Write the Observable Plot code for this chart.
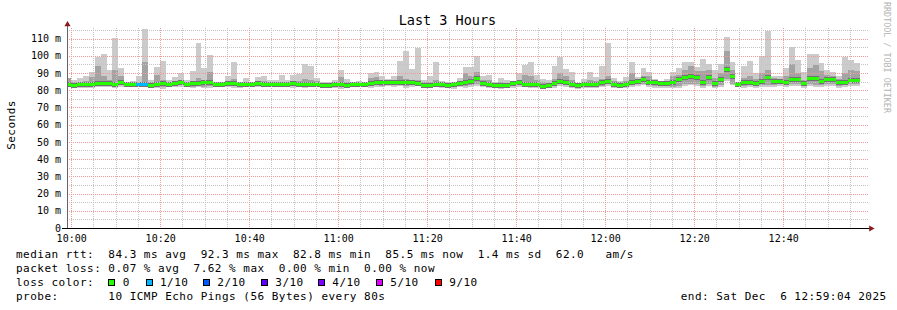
<!DOCTYPE html>
<html><head><meta charset="utf-8">
<script src="https://cdn.jsdelivr.net/npm/d3@7"></script>
<script src="https://cdn.jsdelivr.net/npm/@observablehq/plot@0.6"></script>
<style>
html,body{margin:0;padding:0;background:#fff;}
#chart{position:relative;width:897px;height:310px;overflow:hidden;background:#fff;}
</style></head><body><div id="chart"></div>
<script>
// ---- data (ms), one value per 80 s step ----
const maxRtt = [87,86,87.3,88,90.4,99,101,92,110.5,93,84.6,85.6,88,115.7,86,93.7,97,86,87.5,90,86,91.4,107.2,92.7,100.6,85,84.6,88,96.2,85,87,84.6,87.5,88,
86,86,89,86,89,89.5,95,94,87,84.5,84.5,86,92,86.5,84.5,85.6,84.5,90,90.8,88.5,86.6,88.5,97,103,92.4,104.7,86,88.5,96.2,85.5,84.5,85,87,93.7,
93.3,100,88.5,89,84.6,87,86,85.2,89.8,94.9,96.6,89,86.6,86,94.3,99,92.4,90.8,84.2,86.6,90.8,87.5,94.3,107.4,87,85.2,87.5,96.2,87.5,92.7,90.8,86.6,85.6,
86.6,90.4,92.7,96.2,96.2,93.3,98,95.3,91.8,95.3,111,96.6,84.6,93.9,97.2,90,99.7,114.2,88.5,88,92.7,105.3,97.4,90.4,100.8,101.2,95.8,92,90.4,88.5,99,97.4,96];
const midHigh = [87,85,85,85.5,87.5,94,88.5,86,92,88.5,84.5,84.5,84.5,96.6,84.5,89,86,84.5,85,85.5,84.5,85.5,87,86,90.8,84.5,84,85,86.5,84.5,85,84,85,85.5,
84.5,84.5,85,84.5,85,85.5,86.5,86,85.5,84,84,84.5,87.5,85,84,84.5,84,87,87.5,86,85,86,88,86.5,85.5,86,85,85,86,84.5,84,84.5,85.5,90,
88,90.5,86,86,84,84.5,84,84,86,89,88,86,84.5,84,86.5,90,88,86,83.5,85,86,85.5,86.5,88.5,85.5,84.5,85.5,90,86.5,88,88.5,86,85,
85,88,89,92,94,91,91,92,87,90,103,92,84,87,88.5,86.5,90,92,87,86.5,88,95,90,86,93,94.5,91,89,88,86.5,90,92,91];
const medianRtt = [83.5,83,83.2,83.3,83.5,83.8,83.6,84,83.5,84.2,83.3,83.3,83.2,83.2,83,83.5,83.8,83.4,83.8,84.3,83.5,83.7,84,84.2,84.4,83.4,83.3,83.6,83.9,83.5,83.3,83.4,83.8,83.5,
83.3,83.4,83.5,83.2,83.6,83.4,83.5,83.3,83.3,83,83,83.2,83.5,83,83.1,83.3,83.4,84,84.3,84.2,84.5,84.6,84.5,84.2,84.4,83.9,82.5,83,83.4,83.2,82.8,83.3,83.8,84.3,
84.8,86.6,84,83.3,82.7,82.8,82.7,83.7,84.6,83.2,83.1,83.3,82.3,82.5,83.7,85,84.2,83.1,83,83.2,83.1,83.3,84.2,85,83.1,83,83.2,84.2,85,86.2,84.2,84.2,84,
83.7,84.2,86,87.1,88.1,87.1,84.6,87.5,83.7,86.2,92.2,88.1,83.1,84.6,84.6,84,85,87.1,85,85.2,84.6,86.2,86.2,83.7,87,86.6,85,86.2,86.2,84.6,84.6,85.6,85.6];
const minRtt = [82,81.5,81,81.2,81.5,81.8,82,81.8,81.5,82,82,82.2,82,82.2,81.8,81.5,80.8,81.8,82,82,82.2,81.2,81.8,81,81.3,82,82.2,82,81.5,81,82,82.2,81.8,82,
81.8,82,82,81.8,81.5,82,81,82,82.2,82.2,81.8,81.5,80.8,82,82.2,82,82.2,81.5,82,81.8,82.2,82,82.5,81.5,82,82.2,81.2,82,81.8,81.2,82,80.8,82,81.5,
82,82.5,81.8,81.5,81,80.8,81,81.5,82,81.8,81.5,81.5,80.5,81,81.5,82.5,82,81,80.8,81.2,81.5,81,81.8,82.5,81.2,81.5,81,82,82.5,83,82,81.5,81.5,
81.5,81,81.5,82.5,83,82.5,81.5,82.5,81,82,85.5,83,81.8,81.5,82,81.5,82,82,82,82.5,82,82.5,82.5,81.5,82.5,82,82,82.5,82.5,81.5,82,82.5,82.5];
const lossSteps = {12: 1, 13: 1};   // step index -> lost pings (of 10)

const lossColors = ["#26ff00","#00b8ff","#0059ff","#5e00ff","#7e00ff","#dd00ff","#ff0000","#ff0000","#ff0000","#ff0000"];
const legendLossLabels = ["0","1/10","2/10","3/10","4/10","5/10","9/10"];
const legendLossIdx = [0,1,2,3,4,5,9];

const xTickLabels = ["10:00","10:20","10:40","11:00","11:20","11:40","12:00","12:20","12:40"];
const yTickValues = [0,10,20,30,40,50,60,70,80,90,100,110];
const yTickLabels = ["0","10 m","20 m","30 m","40 m","50 m","60 m","70 m","80 m","90 m","100 m","110 m"];

const titleText = "Last 3 Hours";
const yLabelText = "Seconds";
const watermarkText = "RRDTOOL / TOBI OETIKER";
const row1 = "median rtt:  84.3 ms avg  92.3 ms max  82.8 ms min  85.5 ms now  1.4 ms sd  62.0   am/s";
const row2 = "packet loss: 0.07 % avg  7.62 % max  0.00 % min  0.00 % now";
const row3Label = "loss color:";
const row4 = "probe:       10 ICMP Echo Pings (56 Bytes) every 80s";
const endText = "end: Sat Dec  6 12:59:04 2025";

// ---- build ----
const FONT = "'DejaVu Sans Mono', monospace";
const end = new Date(Date.UTC(2025, 11, 6, 12, 59, 4));
const start = new Date(+end - 3 * 3600e3);
const STEP = 80e3;
const firstStep = new Date(+start - 27e3);

const rows = medianRtt.map((m, i) => ({
  x1: new Date(+firstStep + i * STEP),
  x2: new Date(+firstStep + (i + 1) * STEP),
  med: m, max: maxRtt[i], mid: midHigh[i], min: minRtt[i], loss: lossSteps[i] || 0
}));

const xTicks = xTickLabels.map(s => new Date(Date.UTC(2025, 11, 6, +s.slice(0, 2), +s.slice(3))));
const minorX = d3.utcMinute.every(5).range(start, end).filter(d => d.getUTCMinutes() % 20 !== 0);
const majorX = d3.utcMinute.every(20).range(start, end);
const minorY = d3.range(5, 116, 10);
const majorY = d3.range(10, 116, 10);

const crisp = {clip: true, shapeRendering: "crispEdges"};
const svg = Plot.plot({
  width: 897, height: 310,
  marginLeft: 67, marginRight: 29, marginTop: 27.5, marginBottom: 82,
  x: {type: "utc", domain: [start, end], axis: null},
  y: {domain: [0, 116.4], axis: null},
  color: {type: "identity"},
  style: {fontFamily: FONT, fontSize: "10px", background: "#fff", color: "#000", overflow: "visible"},
  marks: [
    Plot.rect(rows, {x1: "x1", x2: "x2", y1: "min", y2: "max", fill: "#cbcbcb", ...crisp}),
    Plot.rect(rows, {x1: "x1", x2: "x2", y1: "min", y2: "mid", insetBottom: 1.5, fill: "#a3a3a3", ...crisp}),
    Plot.rect(rows, {x1: "x1", x2: "x2", y1: "med", y2: "med", insetTop: -2.5, insetBottom: -2.5, fill: "#727272", ...crisp}),
    Plot.ruleX(minorX, {stroke: "#c4c4c4", strokeDasharray: "1,1", shapeRendering: "crispEdges"}),
    Plot.ruleY(minorY, {stroke: "#c4c4c4", strokeDasharray: "1,1", shapeRendering: "crispEdges"}),
    Plot.ruleX(majorX, {stroke: "#f09a9a", strokeDasharray: "1,1", shapeRendering: "crispEdges"}),
    Plot.ruleY(majorY, {stroke: "#f09a9a", strokeDasharray: "1,1", shapeRendering: "crispEdges"}),
    Plot.rect(rows, {x1: "x1", x2: "x2", y1: "med", y2: "med", insetTop: -1.5, insetBottom: -1.5, fill: d => lossColors[d.loss], ...crisp}),
    Plot.ruleX([start], {stroke: "#666", insetTop: -4, shapeRendering: "crispEdges"}),
    Plot.ruleY([0], {stroke: "#000", insetLeft: -5, insetRight: -2, shapeRendering: "crispEdges"}),
    Plot.dot([0], {frameAnchor: "top-left", symbol: "triangle", r: 2.3, fill: "#8b1a1a", stroke: null, dy: -3.5}),
    Plot.dot([0], {frameAnchor: "bottom-right", symbol: "triangle", rotate: 90, r: 2.3, fill: "#8b1a1a", stroke: null, dx: 2.5}),
    Plot.text(yTickValues, {y: d => d, text: (d, i) => yTickLabels[i], frameAnchor: "left", textAnchor: "end", dx: -6.5, fill: "#000", fontSize: 10}),
    Plot.text(xTicks, {x: d => d, text: (d, i) => xTickLabels[i], frameAnchor: "bottom", lineAnchor: "top", dy: 6, fill: "#000", fontSize: 10})
  ]
});
document.getElementById("chart").appendChild(svg);

// ---- texts around the graph ----
const s = d3.select(svg);
const g = s.append("g").attr("font-family", FONT).attr("fill", "#000").attr("text-anchor", "start").style("white-space", "pre").attr("xml:space", "preserve");
function txt(x, y, t, opts = {}) {
  const e = g.append("text").attr("x", x).attr("y", y).text(t)
    .attr("font-size", opts.size || 11).attr("letter-spacing", opts.ls != null ? opts.ls : 0.48)
    .attr("text-anchor", opts.anchor || "start");
  if (opts.fill) e.attr("fill", opts.fill);
  if (opts.transform) e.attr("transform", opts.transform);
  return e;
}
txt(447.5, 25, titleText, {size: 13.5, ls: 0, anchor: "middle"});
txt(0, 0, yLabelText, {anchor: "middle", transform: "translate(15,125) rotate(-90)"});
txt(0, 0, watermarkText, {size: 8.4, ls: 0, anchor: "middle", fill: "#b4b4b4", transform: "translate(883.5,57.5) rotate(90)"});

txt(16, 257.7, row1);
txt(16, 271.8, row2);
txt(16, 285.9, row3Label);
const sqx = [108, 146, 203, 261, 318, 376, 435];
const lbx = [122.7, 160, 217.3, 275.3, 332.3, 390.3, 449.3];
legendLossLabels.forEach((t, i) => {
  g.append("rect").attr("x", sqx[i] + 0.5).attr("y", 279.5).attr("width", 6).attr("height", 6)
    .attr("fill", lossColors[legendLossIdx[i]]).attr("stroke", "#000").attr("stroke-width", 1);
  txt(lbx[i], 285.9, t);
});
txt(16, 300, row4);
txt(783.7, 300, endText, {anchor: "middle"});
</script></body></html>
